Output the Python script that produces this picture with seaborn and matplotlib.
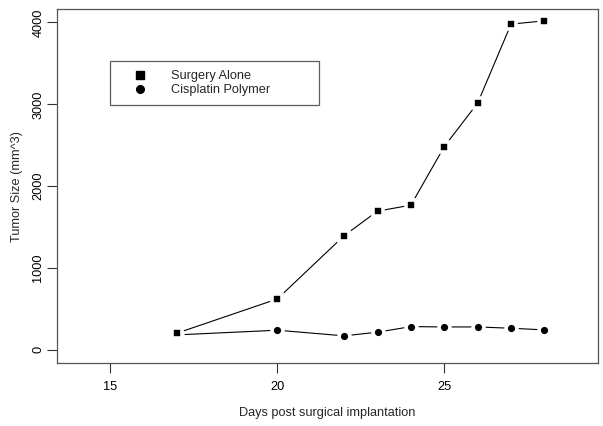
import matplotlib
matplotlib.use("Agg")
import matplotlib.pyplot as plt
import seaborn as sns
import pandas as pd
from matplotlib.lines import Line2D

days = [17, 20, 22, 23, 24, 25, 26, 27, 28]
surgery_alone = [205, 622, 1395, 1695, 1768, 2484, 3016, 3980, 4020]
cisplatin_polymer = [183, 240, 171, 216, 284, 280, 280, 264, 244]
series_names = ["Surgery Alone", "Cisplatin Polymer"]
x_ticks = [15, 20, 25]
y_ticks = [0, 1000, 2000, 3000, 4000]

sns.set_style("white")
plt.rcParams["font.family"] = ["Liberation Sans", "DejaVu Sans"]

fig = plt.figure(figsize=(6.03, 4.26), dpi=100)
ax = fig.add_axes([0.0945, 0.148, 0.897, 0.830])

df_s = pd.DataFrame({"day": days, "size": surgery_alone})
df_c = pd.DataFrame({"day": days, "size": cisplatin_polymer})

common = dict(color="black", linewidth=0.8, markeredgecolor="white",
              markeredgewidth=2.6, estimator=None)
sns.lineplot(data=df_c, x="day", y="size", ax=ax, marker="o", markersize=7.8, **common)
sns.lineplot(data=df_s, x="day", y="size", ax=ax, marker="s", markersize=7.8, **common)

ax.set_xlim(14 - 0.6, 29 + 0.6)
ax.set_ylim(0 - 160, 4000 + 160)
ax.set_xticks(x_ticks)
ax.set_yticks(y_ticks)
ax.set_yticklabels([str(v) for v in y_ticks], rotation=90, va="center")
ax.tick_params(axis="both", direction="out", length=7, width=0.8, colors="#333333",
               labelsize=9.2, labelcolor="black", left=True, bottom=True)
ax.tick_params(axis="x", pad=6)
ax.tick_params(axis="y", pad=2)
for s in ax.spines.values():
    s.set_color("#555555")
    s.set_linewidth(0.9)
ax.set_xlabel("Days post surgical implantation", fontsize=9.2, labelpad=10)
ax.set_ylabel("Tumor Size (mm^3)", fontsize=9.2, labelpad=7)

handles = [Line2D([], [], linestyle="none", marker="s", markersize=5.5, color="black"),
           Line2D([], [], linestyle="none", marker="o", markersize=5.5, color="black")]
leg = ax.legend(handles, series_names, loc="lower left",
                bbox_to_anchor=(0.098, 0.729, 0.386, 0.119), mode="expand",
                borderaxespad=0, frameon=True, fancybox=False, fontsize=9.2,
                borderpad=0.7, handlelength=3.3, handletextpad=0.8,
                labelspacing=0.15)
leg.get_frame().set_edgecolor("#333333")
leg.get_frame().set_linewidth(0.9)

fig.savefig("out.png", dpi=100)
